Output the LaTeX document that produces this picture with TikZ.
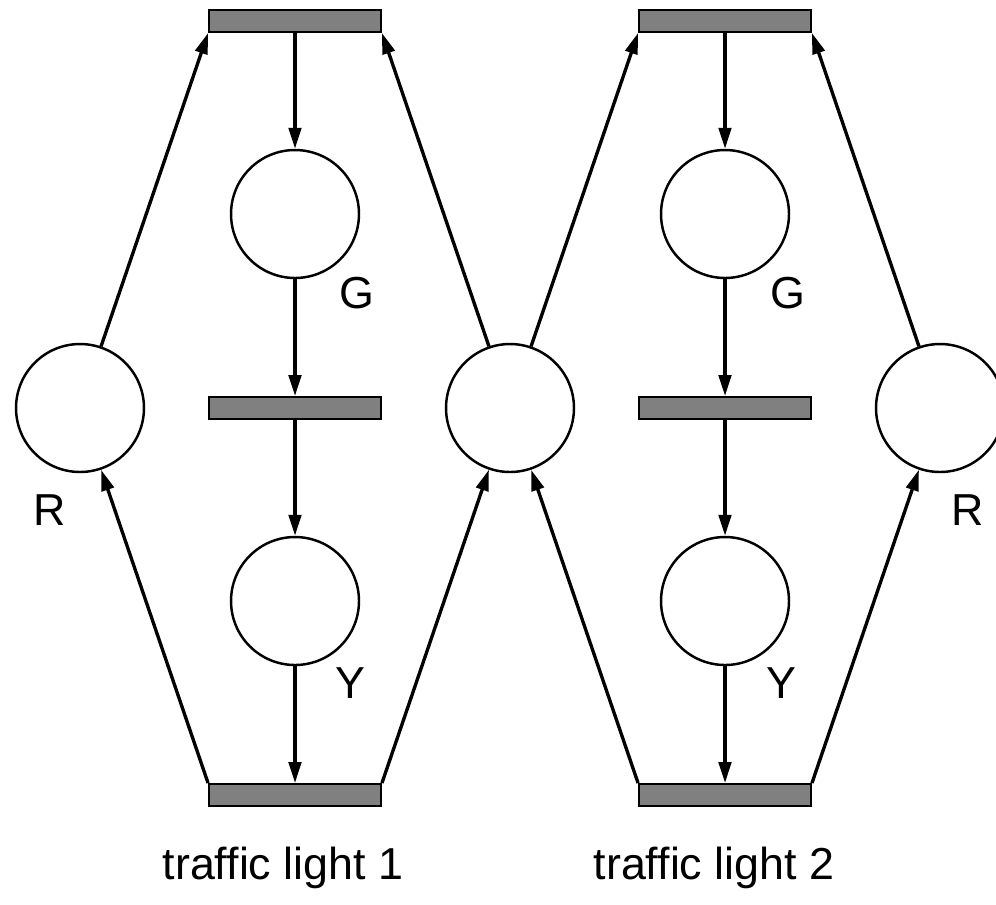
\documentclass[tikz,border=0pt]{standalone}
\usepackage{fontspec}
\setmainfont{Liberation Sans}
\usetikzlibrary{positioning,arrows.meta}

\begin{document}
\begin{tikzpicture}[
		x=0.02cm, y=-0.02cm
		,place/.style={circle, draw, line width=1.4pt, minimum size=2.56cm, inner sep=0pt}
		,trans/.style={rectangle, draw, line width=1.1pt, fill=gray, minimum width=3.44cm, minimum height=0.44cm, inner sep=0pt}
		,arc/.style={line width=1.9pt, -{Triangle[length=0.42cm,width=0.25cm]}}
		,lbl/.style={font=\fontsize{25.5}{30}\selectfont, inner sep=0pt}
	]
		\useasboundingbox (0,0) rectangle (996,904);
		\clip (0,0) rectangle (996,904);

		% light 1
		\node [trans] (tl1) at (295,21) {};
		\node [place] (G1) at (295,214) {};
		\node [trans] (ml1) at (295,408) {};
		\node [place] (Y1) at (295,601) {};
		\node [trans] (bl1) at (295,795) {};

		% light 2
		\node [trans] (tl2) at (725,21) {};
		\node [place] (G2) at (725,214) {};
		\node [trans] (ml2) at (725,408) {};
		\node [place] (Y2) at (725,601) {};
		\node [trans] (bl2) at (725,795) {};

		% red places and the shared one
		\node [place] (R1) at (80,408) {};
		\node [place] (S) at (510,408) {};
		\node [place] (R2) at (940,408) {};

		\foreach \i in {1,2} {
			\draw [arc] (tl\i) -- (G\i);
			\draw [arc] (G\i) -- (ml\i);
			\draw [arc] (ml\i) -- (Y\i);
			\draw [arc] (Y\i) -- (bl\i);
		}

		\draw [arc] (R1) -- (tl1.south west);
		\draw [arc] (S) -- (tl1.south east);
		\draw [arc] (bl1.north west) -- (R1);
		\draw [arc] (bl1.north east) -- (S);

		\draw [arc] (S) -- (tl2.south west);
		\draw [arc] (R2) -- (tl2.south east);
		\draw [arc] (bl2.north west) -- (S);
		\draw [arc] (bl2.north east) -- (R2);

		% labels
		\node [lbl] (g1lbl) at (357,293) {G};
		\node [lbl] (y1lbl) at (350,683) {Y};
		\node [lbl] (g2lbl) at (788,293) {G};
		\node [lbl] (y2lbl) at (781,683) {Y};
		\node [lbl] (r1lbl) at (50,510) {R};
		\node [lbl] (r2lbl) at (968,510) {R};
		\node [lbl] (name1) at (283,868) {traffic light 1};
		\node [lbl] (name2) at (714,868) {traffic light 2};
\end{tikzpicture}
\end{document}
